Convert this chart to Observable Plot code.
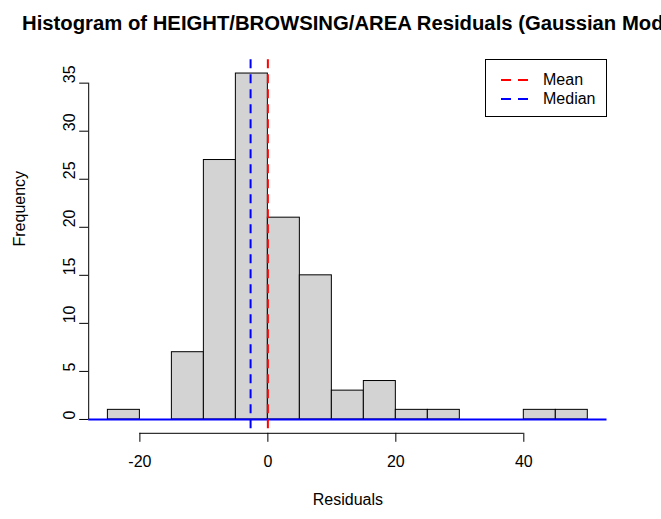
<!DOCTYPE html>
<html>
<head>
<meta charset="utf-8">
<script src="https://cdn.jsdelivr.net/npm/d3@7"></script>
<script src="https://cdn.jsdelivr.net/npm/@observablehq/plot@0.6"></script>
<style>
  body { margin: 0; background: #fff; font-family: "Liberation Sans", Arial, sans-serif; }
  #chart { position: relative; width: 661px; height: 519px; overflow: hidden; background: #fff; }
  #title { height: 40px; position: relative; overflow: hidden; }
  #title div { position: absolute; left: 22px; top: 13px; font-weight: bold; font-size: 20.3px; line-height: 1; white-space: nowrap; color: #000; }
  #legend { position: absolute; box-sizing: border-box; left: 485px; top: 59px; width: 122px; height: 58px; border: 1px solid #000; background: #fff; font-size: 16px; color: #000; }
  #legend .row { position: absolute; left: 0; height: 20px; width: 120px; }
  #legend svg { position: absolute; left: 14px; top: 0; }
  #legend span { position: absolute; left: 57px; top: 0; line-height: 20px; }
</style>
</head>
<body>
<div id="chart">
  <div id="title"><div></div></div>
</div>
<script>
// Histogram bins of the model residuals (width 5)
const binStarts = [-25, -20, -15, -10, -5, 0, 5, 10, 15, 20, 25, 30, 35, 40, 45];
const binWidth = 5;
const counts = [1, 0, 7, 27, 36, 21, 15, 3, 4, 1, 1, 0, 0, 1, 1];

// Summary statistics of the residuals
const meanResidual = 0;
const medianResidual = -2.7;

// Axis ticks
const xTicks = [-20, 0, 20, 40];
const yTicks = [0, 5, 10, 15, 20, 25, 30, 35];

const titleText = "Histogram of HEIGHT/BROWSING/AREA Residuals (Gaussian Model)";
const legendItems = [
  { label: "Mean", color: "red" },
  { label: "Median", color: "blue" }
];

const bins = binStarts.map((x0, i) => ({ x0, x1: x0 + binWidth, count: counts[i] }));

// Base-graphics style 4% padding around the data range
const xMin = binStarts[0], xMax = binStarts[binStarts.length - 1] + binWidth;
const xPad = 0.04 * (xMax - xMin);
const yMax = d3.max(counts);
const yPad = 0.04 * yMax;
const xLo = xMin - xPad, xHi = xMax + xPad;
const yLo = -yPad, yHi = yMax + yPad;

document.querySelector("#title div").textContent = titleText;

const fontSize = "16px";
const dash = "9,6";
const plot = Plot.plot({
  width: 661,
  height: 479,
  marginLeft: 88.2,
  marginRight: 54.5,
  marginTop: 19.2,
  marginBottom: 86.2,
  style: { fontFamily: "'Liberation Sans', Arial, sans-serif", fontSize, color: "#000", background: "#fff" },
  x: { domain: [xLo, xHi] },
  y: { domain: [yLo, yHi] },
  marks: [
    Plot.rectY(bins, { x1: "x0", x2: "x1", y1: 0, y2: "count", fill: "#d3d3d3", stroke: "#000", strokeWidth: 1 }),
    Plot.ruleY([0], { stroke: "blue", strokeWidth: 2 }),
    Plot.ruleX([medianResidual], { stroke: "blue", strokeWidth: 2, strokeDasharray: dash }),
    Plot.ruleX([meanResidual], { stroke: "red", strokeWidth: 2, strokeDasharray: dash }),
    // y axis
    Plot.ruleX([xLo], { y1: yTicks[0], y2: yTicks[yTicks.length - 1], stroke: "#000" }),
    Plot.axisY({ ticks: yTicks, tickSize: 9, tickFormat: () => "", label: null, stroke: "#000" }),
    Plot.text(yTicks, { y: d => d, frameAnchor: "left", text: d => String(d), rotate: -90, dx: -19, fill: "#000", fontSize }),
    // x axis
    Plot.ruleY([yLo], { x1: xTicks[0], x2: xTicks[xTicks.length - 1], stroke: "#000" }),
    Plot.axisX({ ticks: xTicks, tickSize: 9, tickFormat: () => "", label: null, stroke: "#000" }),
    Plot.text(xTicks, { x: d => d, frameAnchor: "bottom", text: d => String(d), dy: 34, fill: "#000", fontSize }),
    // axis titles
    Plot.text(["Frequency"], { frameAnchor: "left", text: d => d, rotate: -90, dx: -69, fill: "#000", fontSize }),
    Plot.text(["Residuals"], { frameAnchor: "bottom", text: d => d, dy: 72, fill: "#000", fontSize })
  ]
});
document.getElementById("chart").appendChild(plot);

// Legend box in the top-right corner of the plot region
const legend = document.createElement("div");
legend.id = "legend";
legendItems.forEach((item, i) => {
  const row = document.createElement("div");
  row.className = "row";
  row.style.top = (10 + i * 19) + "px";
  row.innerHTML = `<svg width="30" height="20"><line x1="1" x2="28" y1="10" y2="10" stroke="${item.color}" stroke-width="2" stroke-dasharray="10,7"/></svg><span>${item.label}</span>`;
  legend.appendChild(row);
});
document.getElementById("chart").appendChild(legend);
</script>
</body>
</html>
